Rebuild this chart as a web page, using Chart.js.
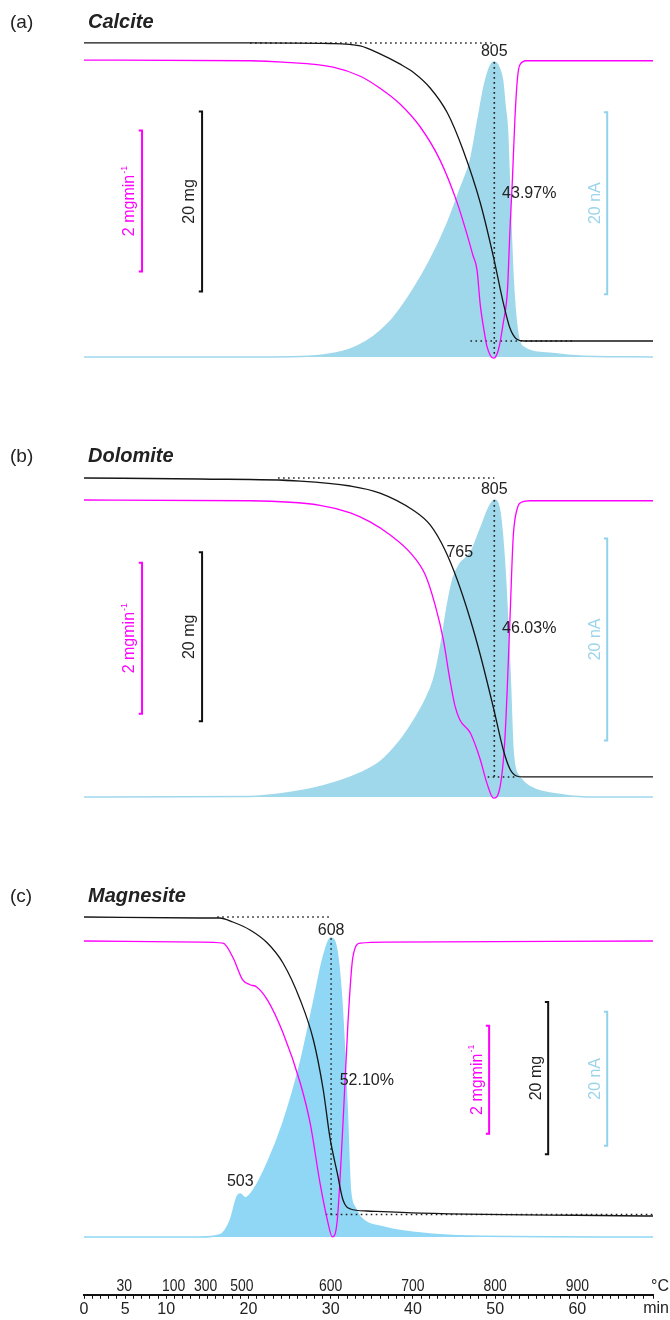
<!DOCTYPE html>
<html lang="en">
<head>
  <meta charset="UTF-8">
  <title>TG / DTG / MS – Calcite, Dolomite, Magnesite</title>
  <style>
    body { margin: 0; background: #fff; }
    #wrap { position: relative; width: 670px; height: 1320px; }
    #wrap canvas { position: absolute; left: 0; }
  </style>
</head>
<body>
  <div id="wrap">
    <canvas id="panelA" width="670" height="437" style="top:0"></canvas>
    <canvas id="panelB" width="670" height="437" style="top:437px"></canvas>
    <canvas id="panelC" width="670" height="386" style="top:874px"></canvas>
    <canvas id="axis" width="670" height="80" style="top:1240px"></canvas>
  </div>

  <script src="https://cdn.jsdelivr.net/npm/chart.js@4"></script>
  <script>
    // shared time axis (min) and the temperature reached at some of those times
    const T_MAX = 69.2;
    const minuteLabels = [0, 5, 10, 20, 30, 40, 50, 60];
    const tempTickPos = [4.9, 10.9, 14.8, 19.2, 30, 40, 50, 60];
    const tempTickLabels = ['30', '100', '300', '500', '600', '700', '800', '900'];

    // (a) calcite: TG in mg, DTG in mg/min, MS ion current in nA
    const calciteTgT = [0, 20.2, 29.9, 33.6, 36.0, 38.4, 40.0, 42.1, 44.2, 46.1, 48.2, 49.8, 51.0, 51.8, 52.6, 53.5, 69.2];
    const calciteTg = [75.30, 75.30, 75.24, 74.97, 74.08, 72.97, 72.08, 70.30, 67.52, 63.41, 57.52, 51.52, 46.41, 43.63, 42.41, 42.19, 42.19];
    const calciteDtgT = [0, 20.2, 24.2, 30.3, 33.6, 36.0, 38.4, 40.9, 43.3, 45.4, 46.6, 47.3, 47.8, 48.2, 48.7, 49.0, 49.8, 50.4, 51.0, 51.5, 51.8, 52.1, 52.4, 52.7, 53.0, 53.8, 69.2];
    const calciteDtg = [0, -0.01, -0.03, -0.10, -0.23, -0.40, -0.62, -0.95, -1.42, -2.03, -2.48, -2.77, -2.98, -3.48, -3.87, -4.06, -4.23, -4.11, -3.72, -3.26, -2.41, -1.70, -0.85, -0.28, -0.07, -0.01, -0.01];
    const calciteMsT = [0, 20.2, 26.3, 29.9, 32.4, 34.4, 36.0, 37.6, 40.0, 42.1, 44.2, 45.7, 47.0, 47.9, 48.7, 49.4, 49.9, 50.5, 50.9, 51.2, 51.5, 51.8, 52.2, 52.7, 53.4, 56.3, 60.3, 69.2];
    const calciteMs = [0, 0, 0.05, 0.33, 0.88, 1.76, 2.86, 4.29, 7.36, 10.66, 14.73, 18.35, 21.65, 26.04, 29.89, 31.98, 32.42, 31.76, 30.44, 27.69, 24.95, 17.58, 8.46, 2.97, 1.10, 0.44, 0.11, 0];

    // (b) dolomite
    const dolomiteTgT = [0, 14.1, 26.3, 32.4, 36.0, 40.0, 42.1, 43.9, 45.4, 47.0, 48.2, 49.8, 51.0, 51.8, 52.6, 53.4, 69.2];
    const dolomiteTg = [76.90, 76.78, 76.54, 75.95, 75.12, 73.11, 71.34, 68.38, 64.83, 60.10, 55.95, 49.68, 44.71, 42.46, 41.63, 41.52, 41.52];
    const dolomiteDtgT = [0, 20.2, 28.7, 32.4, 34.8, 37.2, 39.7, 41.5, 42.7, 43.7, 44.5, 45.1, 45.7, 47.0, 48.2, 49.0, 49.8, 50.6, 51.2, 51.8, 52.2, 52.7, 53.2, 54.3, 69.2];
    const dolomiteDtg = [0, -0.01, -0.07, -0.17, -0.29, -0.46, -0.70, -0.99, -1.39, -1.85, -2.38, -2.72, -2.91, -3.09, -3.44, -3.75, -3.95, -3.80, -3.14, -1.59, -0.49, -0.11, -0.03, -0.01, -0.01];
    const dolomiteMsT = [0, 20.2, 23.8, 27.5, 31.1, 33.6, 36.0, 38.4, 40.0, 41.5, 42.5, 43.3, 44.2, 44.9, 45.7, 47.0, 48.2, 49.4, 50.0, 50.6, 51.2, 51.8, 52.2, 53.0, 54.3, 58.3, 62.4, 69.2];
    const dolomiteMs = [0, 0.05, 0.30, 0.79, 1.58, 2.38, 3.47, 5.54, 7.43, 9.60, 11.58, 14.55, 19.01, 21.68, 23.07, 24.16, 26.53, 28.91, 29.41, 28.12, 22.48, 12.57, 4.36, 1.98, 0.99, 0.20, 0, 0];

    // (c) magnesite
    const magnesiteTgT = [0, 14.1, 16.5, 18.1, 20.2, 22.3, 24.2, 26.3, 27.9, 29.1, 29.9, 30.8, 31.5, 32.4, 34.4, 40.9, 69.2];
    const magnesiteTg = [75.00, 74.87, 74.87, 74.34, 73.29, 71.58, 68.95, 64.08, 58.82, 52.24, 46.05, 41.32, 37.76, 36.58, 36.32, 36.05, 35.66];
    const magnesiteDtgT = [0, 14.1, 16.9, 18.1, 19.3, 20.2, 21.0, 22.3, 24.2, 26.3, 27.5, 28.7, 29.6, 30.2, 30.8, 31.5, 32.1, 32.7, 33.6, 36.9, 69.2];
    const magnesiteDtg = [0, -0.02, -0.04, -0.30, -0.72, -0.81, -0.85, -1.09, -1.70, -2.63, -3.37, -4.48, -5.17, -5.48, -5.17, -3.37, -1.52, -0.30, -0.04, -0.02, 0];
    const magnesiteMsT = [0, 14.1, 16.5, 17.8, 18.6, 19.0, 19.6, 20.6, 22.3, 24.2, 26.3, 27.9, 29.1, 30.05, 30.8, 31.4, 32.0, 32.4, 33.0, 33.6, 36.4, 40.9, 47.0, 69.2];
    const magnesiteMs = [0, 0, 0.30, 2.54, 5.97, 6.42, 5.82, 7.01, 11.04, 17.01, 25.97, 34.93, 41.79, 44.63, 42.39, 34.33, 19.40, 7.01, 4.33, 2.99, 1.49, 0.60, 0.15, 0];

    const FONT = "'Liberation Sans', Arial, Helvetica, sans-serif";
    const INK = '#222';
    const MAGENTA = '#ff00ff';
    const SKY = '#93d2ea';

    // per panel: axis ranges, scale bars [t, from, to], dotted guides, notes
    const panels = [
      {
        id: 'panelA', tag: '(a)', name: 'Calcite', titleY: 28, fill: '#a0d8eb',
        tg: [calciteTgT, calciteTg], dtg: [calciteDtgT, calciteDtg], ms: [calciteMsT, calciteMs],
        range: { tg: [37.86, 76.74], dtg: [-4.539, 0.426], ms: [-2.53, 35.93] },
        bars: { dtg: [7.06, -1.0, -3.0], tg: [14.36, 67.7, 47.7], ms: [63.63, 26.9, 6.9] },
        guides: [
          ['tg', [[20.2, 75.30], [49.9, 75.30]]],
          ['ms', [[49.9, 32.4], [49.9, 0]]],
          ['tg', [[47.0, 42.19], [59.5, 42.19]]]
        ],
        notes: [
          ['805', 49.9, 'ms', 33.6, 'center'],
          ['43.97%', 50.85, 'ms', 18.0, 'left']
        ]
      },
      {
        id: 'panelB', tag: '(b)', name: 'Dolomite', titleY: 25, fill: '#a0d8eb',
        tg: [dolomiteTgT, dolomiteTg], dtg: [dolomiteDtgT, dolomiteDtg], ms: [dolomiteMsT, dolomiteMs],
        range: { tg: [36.78, 78.20], dtg: [-4.199, 0.437], ms: [-1.98, 32.67] },
        bars: { dtg: [7.06, -0.83, -2.83], tg: [14.36, 68.1, 48.1], ms: [63.63, 25.6, 5.6] },
        guides: [
          ['tg', [[23.6, 76.90], [49.9, 76.90]]],
          ['ms', [[49.9, 29.4], [49.9, 1.7]]],
          ['tg', [[49.1, 41.52], [52.7, 41.52]]]
        ],
        notes: [
          ['805', 49.9, 'ms', 30.4, 'center'],
          ['765', 45.7, 'ms', 24.2, 'center'],
          ['46.03%', 50.85, 'ms', 16.7, 'left']
        ]
      },
      {
        id: 'panelC', tag: '(c)', name: 'Magnesite', titleY: 28, fill: '#8fd7f5',
        tg: [magnesiteTgT, magnesiteTg], dtg: [magnesiteDtgT, magnesiteDtg], ms: [magnesiteMsT, magnesiteMs],
        range: { tg: [30.66, 76.71], dtg: [-5.796, 0.685], ms: [-2.54, 49.70] },
        bars: { dtg: [49.27, -1.57, -3.57], tg: [56.45, 63.8, 43.8], ms: [63.63, 33.6, 13.6] },
        guides: [
          ['tg', [[16.2, 75.00], [30.1, 75.00]]],
          ['ms', [[30.05, 44.6], [30.05, 3.3]]],
          ['tg', [[29.4, 35.86], [69.2, 35.86]]]
        ],
        notes: [
          ['608', 30.05, 'ms', 45.8, 'center'],
          ['52.10%', 31.1, 'ms', 23.4, 'left'],
          ['503', 19.0, 'ms', 8.2, 'center']
        ]
      }
    ];

    function xy(ts, vs) {
      return ts.map((t, i) => ({ x: t, y: vs[i] }));
    }

    function curve(series, axis, color, width) {
      return {
        data: xy(series[0], series[1]), yAxisID: axis,
        borderColor: color, borderWidth: width, pointRadius: 0,
        cubicInterpolationMode: 'monotone', fill: false
      };
    }

    // bracket shaped scale bar: ] with short caps to the left
    function scaleBar(bar, axis, color) {
      const [t, a, b] = bar;
      return {
        data: [{ x: t - 0.4, y: a }, { x: t, y: a }, { x: t, y: b }, { x: t - 0.4, y: b }],
        yAxisID: axis, borderColor: color, borderWidth: 2, pointRadius: 0,
        tension: 0, fill: false, borderJoinStyle: 'miter', borderCapStyle: 'butt'
      };
    }

    function guide(g) {
      return {
        data: g[1].map(p => ({ x: p[0], y: p[1] })), yAxisID: g[0],
        borderColor: '#222', borderWidth: 1.6, borderDash: [1.6, 3.4],
        pointRadius: 0, tension: 0, fill: false
      };
    }

    function rotatedCaption(ctx, x, y, text, sup, color) {
      ctx.save();
      ctx.translate(x, y);
      ctx.rotate(-Math.PI / 2);
      ctx.fillStyle = color;
      ctx.textBaseline = 'middle';
      ctx.textAlign = 'left';
      ctx.font = '9px ' + FONT;
      const ws = sup ? ctx.measureText(sup).width + 1 : 0;
      ctx.font = '16px ' + FONT;
      const w = ctx.measureText(text).width;
      ctx.fillText(text, -(w + ws) / 2, 0);
      if (sup) {
        ctx.font = '9px ' + FONT;
        ctx.fillText(sup, -(w + ws) / 2 + w + 1, -6);
      }
      ctx.restore();
    }

    function decor(p) {
      return {
        id: 'decor',
        afterDatasetsDraw(chart) {
          const ctx = chart.ctx;
          const sx = chart.scales.x;
          ctx.save();
          ctx.fillStyle = INK;
          ctx.textBaseline = 'alphabetic';
          ctx.textAlign = 'left';
          ctx.font = '19px ' + FONT;
          ctx.fillText(p.tag, 10, p.titleY);
          ctx.font = 'italic bold 20px ' + FONT;
          ctx.fillText(p.name, 88, p.titleY);

          ctx.font = '16px ' + FONT;
          ctx.textBaseline = 'middle';
          p.notes.forEach(n => {
            ctx.textAlign = n[4];
            ctx.fillText(n[0], sx.getPixelForValue(n[1]), chart.scales[n[2]].getPixelForValue(n[3]));
          });
          ctx.restore();

          const caps = [
            ['dtg', '2 mgmin', '-1', MAGENTA],
            ['tg', '20 mg', '', INK],
            ['ms', '20 nA', '', '#9bd4ea']
          ];
          caps.forEach(c => {
            const bar = p.bars[c[0]];
            const sy = chart.scales[c[0]];
            const mid = (sy.getPixelForValue(bar[1]) + sy.getPixelForValue(bar[2])) / 2;
            rotatedCaption(ctx, sx.getPixelForValue(bar[0]) - 12, mid, c[1], c[2], c[3]);
          });
        }
      };
    }

    panels.forEach(p => {
      const datasets = [
        curve(p.tg, 'tg', '#151515', 1.3),
        curve(p.dtg, 'dtg', MAGENTA, 1.3),
        scaleBar(p.bars.dtg, 'dtg', MAGENTA),
        scaleBar(p.bars.tg, 'tg', '#111'),
        scaleBar(p.bars.ms, 'ms', SKY),
        ...p.guides.map(guide),
        Object.assign(curve(p.ms, 'ms', p.fill, 1.5), { fill: 'origin', backgroundColor: p.fill })
      ];
      const canvas = document.getElementById(p.id);
      new Chart(canvas, {
        type: 'line',
        data: { datasets },
        options: {
          responsive: false,
          animation: false,
          events: [],
          layout: { padding: { left: 84, right: 17, top: 30, bottom: canvas.height - 380 } },
          plugins: { legend: { display: false }, tooltip: { enabled: false } },
          scales: {
            x: { type: 'linear', display: false, min: 0, max: T_MAX, bounds: 'data' },
            tg: { type: 'linear', display: false, min: p.range.tg[0], max: p.range.tg[1], bounds: 'data' },
            dtg: { type: 'linear', display: false, min: p.range.dtg[0], max: p.range.dtg[1], bounds: 'data' },
            ms: { type: 'linear', display: false, min: p.range.ms[0], max: p.range.ms[1], bounds: 'data' }
          }
        },
        plugins: [decor(p)]
      });
    });

    // temperature labels sit above the minute axis, placed through the x scale
    const tempLabels = {
      id: 'tempLabels',
      afterDraw(chart) {
        const ctx = chart.ctx;
        const sx = chart.scales.x;
        const yTemp = chart.chartArea.bottom - 8;
        ctx.save();
        ctx.fillStyle = INK;
        ctx.font = '17px ' + FONT;
        ctx.textAlign = 'center';
        ctx.textBaseline = 'middle';
        tempTickPos.forEach((t, i) => {
          ctx.save();
          ctx.translate(sx.getPixelForValue(t), yTemp);
          ctx.scale(0.82, 1);
          ctx.fillText(tempTickLabels[i], 0, 0);
          ctx.restore();
        });
        ctx.font = '16px ' + FONT;
        ctx.textAlign = 'right';
        ctx.fillText('°C', 669, yTemp);
        ctx.fillText('min', 669, chart.chartArea.bottom + 14);
        ctx.restore();
      }
    };

    new Chart(document.getElementById('axis'), {
      type: 'line',
      data: { datasets: [] },
      options: {
        responsive: false,
        animation: false,
        events: [],
        layout: { padding: { left: 84, right: 17, top: 0, bottom: 0 } },
        plugins: { legend: { display: false }, tooltip: { enabled: false } },
        scales: {
          x: {
            type: 'linear', position: 'bottom', min: 0, max: T_MAX, bounds: 'data',
            grid: { drawOnChartArea: false, drawTicks: true, tickLength: 4, tickColor: '#111', tickWidth: 1 },
            border: { display: true, color: '#111', width: 2 },
            ticks: {
              stepSize: 1, autoSkip: false, maxRotation: 0, padding: 1, color: INK,
              font: { size: 16, family: FONT },
              callback: v => (minuteLabels.includes(v) ? String(v) : '')
            }
          },
          y: { display: false, min: 0, max: 1 }
        }
      },
      plugins: [tempLabels]
    });
  </script>
</body>
</html>
